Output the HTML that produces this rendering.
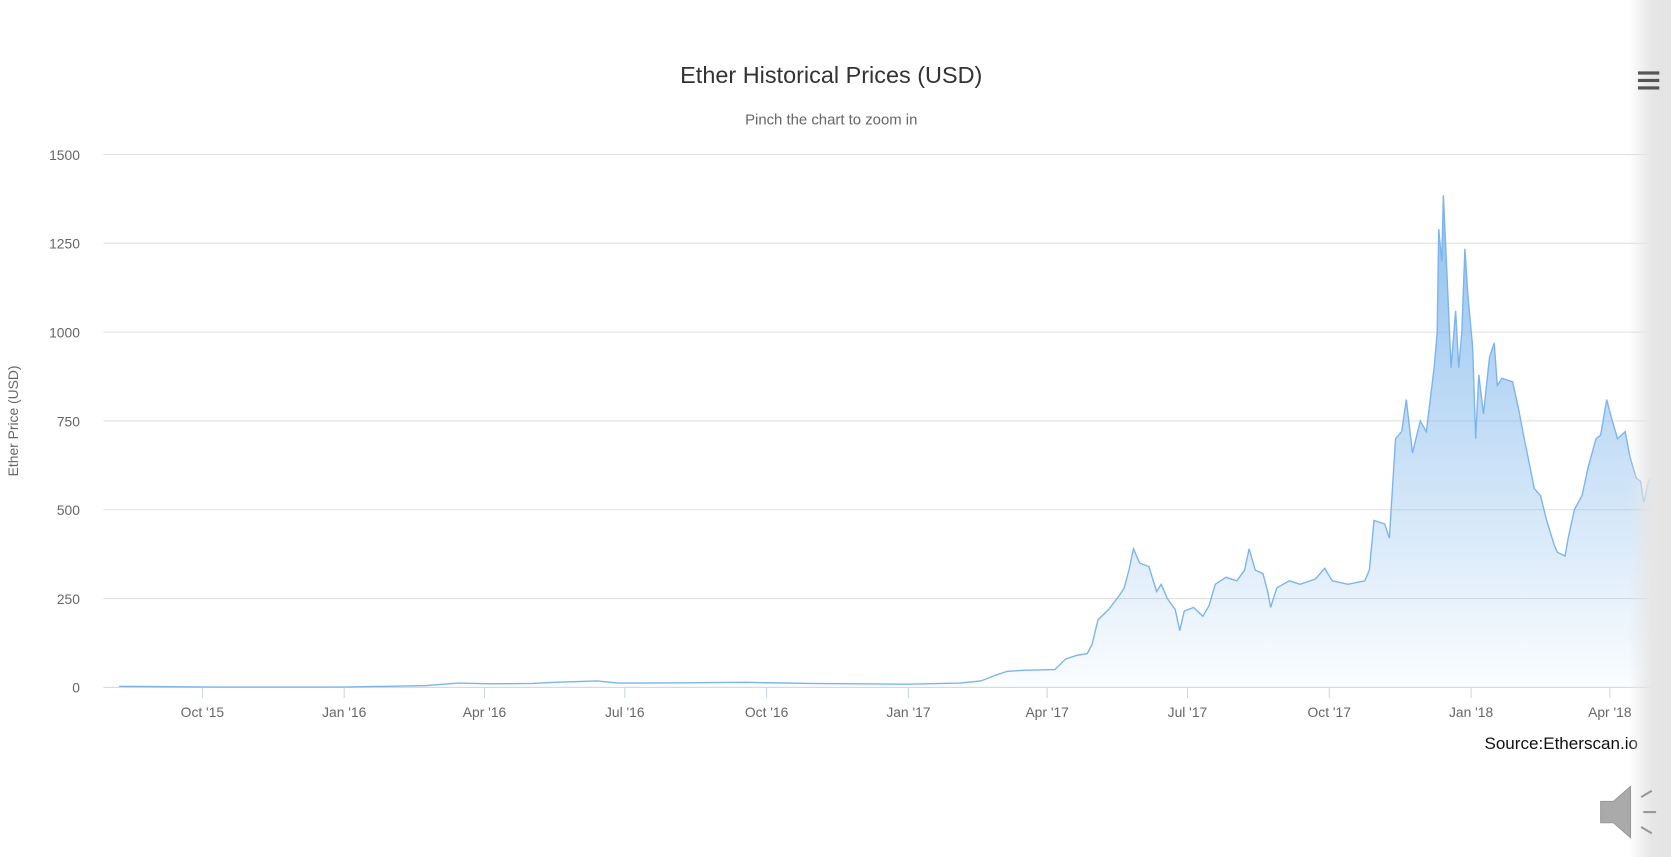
<!DOCTYPE html>
<html><head><meta charset="utf-8"><style>
html,body{margin:0;padding:0;background:#fff;width:1671px;height:857px;overflow:hidden;font-family:"Liberation Sans",sans-serif}
#wrap{position:relative;width:1671px;height:857px}
svg{position:absolute;left:0;top:0}
</style></head><body>
<div id="wrap">
<svg id="chart" width="1671" height="857">
<defs><linearGradient id="g" x1="0" y1="0" x2="0" y2="1">
<stop offset="0" stop-color="#7cb5ec" stop-opacity="0.85"/>
<stop offset="1" stop-color="#7cb5ec" stop-opacity="0.03"/></linearGradient>
<linearGradient id="fg" x1="0" y1="0" x2="1" y2="0">
<stop offset="0" stop-color="#e6e6e6" stop-opacity="0"/>
<stop offset="0.5" stop-color="#e6e6e6" stop-opacity="1"/>
<stop offset="1" stop-color="#e2e2e2" stop-opacity="1"/></linearGradient></defs>
<g transform="scale(1.0657)">
<text x="780" y="78" text-anchor="middle" font-size="22" fill="#333">Ether Historical Prices (USD)</text>
<text x="780" y="117" text-anchor="middle" font-size="14" fill="#666">Pinch the chart to zoom in</text>
<text x="17" y="395" transform="rotate(-90 17 395)" text-anchor="middle" font-size="13" fill="#666">Ether Price (USD)</text>
<g id="grid"></g><g id="series"></g><g id="xaxis"></g>
<text x="1537" y="703" text-anchor="end" font-size="16" fill="#111">Source:Etherscan.io</text>
<rect x="1528" y="0" width="45" height="810" fill="url(#fg)"/>
<g><rect x="1537" y="67" width="20" height="3" fill="#555"/><rect x="1537" y="74" width="20" height="3" fill="#555"/><rect x="1537" y="81" width="20" height="3" fill="#555"/></g>
<g fill="#aaa" stroke="#999"><path d="M1502 752h12l16-14v48l-16-14h-12z"/><path d="M1540 748l10-6M1542 762h12M1540 776l10 6" stroke-width="2" fill="none"/></g>
</g>
</svg>
</div>
<script>
const yTicks=[0,250,500,750,1000,1250,1500];
const xTickDays=[-92,0,91,182,274,366,456,547,639,731,821];
const xTickLabels=["Oct '15","Jan '16","Apr '16","Jul '16","Oct '16","Jan '17","Apr '17","Jul '17","Oct '17","Jan '18","Apr '18"];
const days=[-146,-85,0,53,74,95,122,136,164,178,219,261,302,366,399,413,423,430,440,461,468,475,482,485,489,496,503,506,509,512,516,522,527,530,534,539,542,545,551,557,561,565,572,579,584,587,591,596,599,601,605,613,620,630,636,641,651,662,665,668,675,678,682,686,689,693,698,702,707,709,710,712,713,716,718,721,723,725,727,729,732,734,736,739,743,746,748,751,758,762,765,772,776,780,785,787,792,794,798,803,807,812,815,819,822,826,831,834,838,841,843,846,848];
const prices=[3,1,1,5,12,10,11,14,18,12,13,14,11,9,12,18,35,45,48,50,80,90,95,120,190,220,260,280,330,390,350,340,270,290,250,220,160,215,225,200,230,290,310,300,330,390,330,320,270,225,280,300,290,305,335,300,290,300,330,470,460,420,700,720,810,660,750,720,900,1000,1290,1200,1385,1100,900,1060,900,1000,1235,1100,960,700,880,770,930,970,850,870,860,780,710,560,540,470,400,380,370,420,500,540,620,700,710,810,760,700,720,650,590,580,520,580,590];
const X=d=>323+d*1.4465, Y=v=>645-v*(500/1500);
const NS="http://www.w3.org/2000/svg";
function mk(t,a,p){const e=document.createElementNS(NS,t);for(const k in a)e.setAttribute(k,a[k]);p.appendChild(e);return e;}
const grid=document.getElementById('grid');
yTicks.forEach(v=>{
 const l=mk('line',{x1:97,x2:1560,y1:Y(v),y2:Y(v),stroke:v===0?'#ccd6eb':'#e0e0e0','stroke-width':1},grid);
 
 
 const t=mk('text',{x:75,y:Y(v)+5,'text-anchor':'end','font-size':13,fill:'#666'},grid);
 t.textContent=v;
 
 
});
const xa=document.getElementById('xaxis');
xTickDays.forEach((d,i)=>{
 const tk=mk('line',{x1:X(d),x2:X(d),y1:645,y2:655,stroke:'#ccd6eb'},xa);
 
 
 const t=mk('text',{x:X(d),y:673,'text-anchor':'middle','font-size':13,fill:'#666'},xa);
 t.textContent=xTickLabels[i];
 
 
});
const s=document.getElementById('series');
let dl='';days.forEach((d,i)=>{dl+=(i?'L':'M')+X(d).toFixed(1)+' '+Y(prices[i]).toFixed(1);});
const area=mk('path',{d:dl+'L'+X(days[days.length-1])+' 645L'+X(days[0])+' 645Z',fill:'url(#g)'},s);


const line=mk('path',{d:dl,fill:'none',stroke:'#7cb5ec','stroke-width':1.3},s);


</script>
</body></html>
